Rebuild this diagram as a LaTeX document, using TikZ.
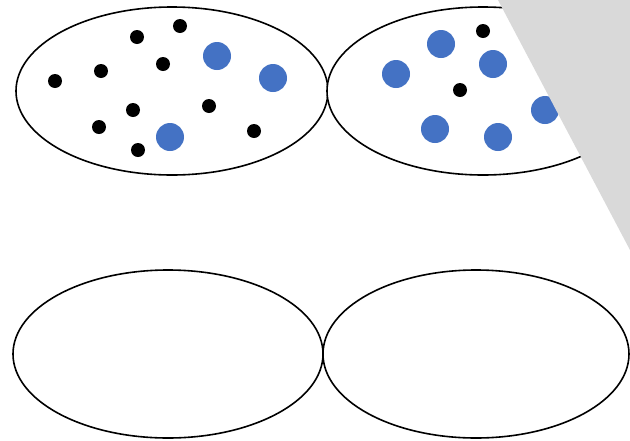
\documentclass[tikz,border=0pt]{standalone}
\definecolor{dotblue}{HTML}{4472C4}
\definecolor{panelgray}{HTML}{D9D9D9}
\begin{document}
\begin{tikzpicture}[x=1pt,y=-1pt,
  setring/.style={draw=black,line width=1.6pt,fill=white},
  smalldot/.style={fill=black},
  bigdot/.style={fill=dotblue}]
\useasboundingbox (0,0) rectangle (630,440);
\fill[white] (0,0) rectangle (630,440);
% ellipses
\draw[setring] (172,91) ellipse [x radius=156, y radius=84];
\draw[setring] (483,91) ellipse [x radius=156, y radius=84];
\draw[setring] (168,354) ellipse [x radius=155, y radius=84];
\draw[setring] (476,354) ellipse [x radius=153, y radius=84];
% top-left dots
\foreach \p in {(180,26),(137,37),(163,64),(101,71),(55,81),(133,110),(209,106),(99,127),(138,150),(254,131)}
  \fill[smalldot] \p circle (7);
\foreach \p in {(217,56),(273,78),(170,137)}
  \fill[bigdot] \p circle (14);
% top-right dots
\foreach \p in {(483,31),(460,90)}
  \fill[smalldot] \p circle (7);
\foreach \p in {(441,44),(396,74),(493,64),(435,129),(498,137),(545,110)}
  \fill[bigdot] \p circle (14);
% gray panel
\fill[panelgray] (498,0) -- (630,0) -- (630,250) -- cycle;
\end{tikzpicture}
\end{document}
